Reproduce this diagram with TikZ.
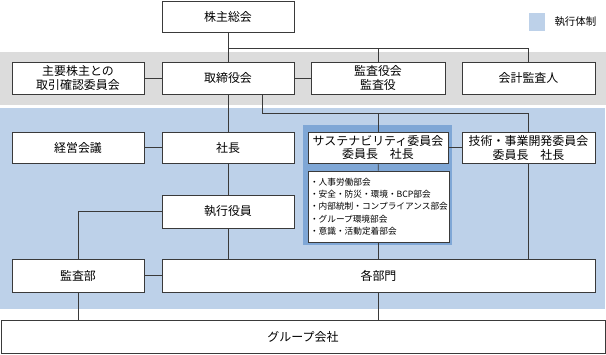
\documentclass[tikz,border=0pt]{standalone}
\usepackage{fontspec}
\setmainfont{Noto Sans CJK JP}
\usepackage{tikz}
\usetikzlibrary{positioning,calc}
\definecolor{Ink}{HTML}{3A3A3A}
\definecolor{Band}{HTML}{DCDCDC}
\definecolor{Exec}{HTML}{BDD1E9}
\definecolor{SusFrame}{HTML}{7FA7D6}
\tikzset{
  box/.style={draw=Ink,fill=white,line width=.7pt,minimum width=132bp,minimum height=32bp,align=center,inner sep=0pt,font=\fontsize{12}{14}\selectfont},
  listbox/.style={draw=Ink,fill=white,line width=.7pt,text width=137bp,minimum height=71bp,align=left,inner xsep=2bp,inner ysep=1bp,font=\fontsize{8.7}{12.3}\selectfont},
  link/.style={draw=Ink,line width=.7pt}
}
\begin{document}
\begin{tikzpicture}[x=1bp,y=-1bp]
      \useasboundingbox (0,0) rectangle (606,354);
      % background areas
      \fill[Band] (0,52) rectangle (606,105);
      \fill[Exec] (0,108) rectangle (605,309);
      \fill[SusFrame] (303,125) rectangle (452,245);
      % legend
      \fill[Exec] (529,13) rectangle (545,31);
      \node[font=\fontsize{10.5}{12}\selectfont,anchor=west] (legend) at (551,22) {執行体制};
      % top
      \node[box,minimum height=31bp] (agm) at (228,16.5) {株主総会};
      % governance row
      \node[box] (tradecom) at (78,78) {主要株主との\\取引確認委員会};
      \node[box] (board) at (228,78) {取締役会};
      \node[box,minimum width=134bp] (auditors) at (378,78) {監査役会\\監査役};
      \node[box,minimum width=133bp] (accountant) at (528.5,78) {会計監査人};
      % execution rows
      \node[box,minimum height=31bp] (mgmt) at (78,147.5) {経営会議};
      \node[box,minimum height=31bp] (pres) at (228,147.5) {社長};
      \node[box,minimum width=140bp,minimum height=31bp] (sus) at (378,147.5) {サステナビリティ委員会\\委員長\quad 社長};
      \node[box,minimum width=133bp,minimum height=31bp] (tech) at (528.5,147.5) {技術・事業開発委員会\\委員長\quad 社長};
      \node[listbox] (sublist) at (378.5,206.5) {・人事労働部会\\・安全・防災・環境・BCP部会\\・内部統制・コンプライアンス部会\\・グループ環境部会\\・意識・活動定着部会};
      \node[box,minimum height=33bp] (officers) at (228,211.5) {執行役員};
      \node[box,minimum height=33bp] (audit) at (78,275.5) {監査部};
      \node[box,minimum width=433bp,minimum height=33bp] (depts) at (378.5,275.5) {各部門};
      \node[box,minimum width=604bp,minimum height=33bp] (group) at (303,336.5) {グループ会社};
      % connectors
      \coordinate (bus1) at (228,48);
      \coordinate (bus2) at (262,113);
      \draw[link] (agm) -- (board);
      \draw[link] (bus1) -| (accountant);
      \draw[link] (auditors) |- (bus1);
      \draw[link] (tradecom) -- (board);
      \draw[link] (board) -- (auditors);
      \draw[link] (board) -- (pres);
      \draw[link] (board.south -| bus2) -- (bus2) -| (tech);
      \draw[link] (sus) |- (bus2);
      \draw[link] (mgmt) -- (pres);
      \draw[link] (sus) -- (tech);
      \draw[link] (sus) -- (sublist);
      \draw[link] (pres) -- (officers);
      \draw[link] (officers) -- (officers |- depts.north);
      \draw[link] (officers) -| (audit);
      \draw[link] (sublist) -- (sublist |- depts.north);
      \draw[link] (tech) -- (tech |- depts.north);
      \draw[link] (audit) -- (depts);
      \draw[link] (audit) -- (group.north -| audit);
      \draw[link] (depts) -- (group.north -| depts);
    \end{tikzpicture}
\end{document}
